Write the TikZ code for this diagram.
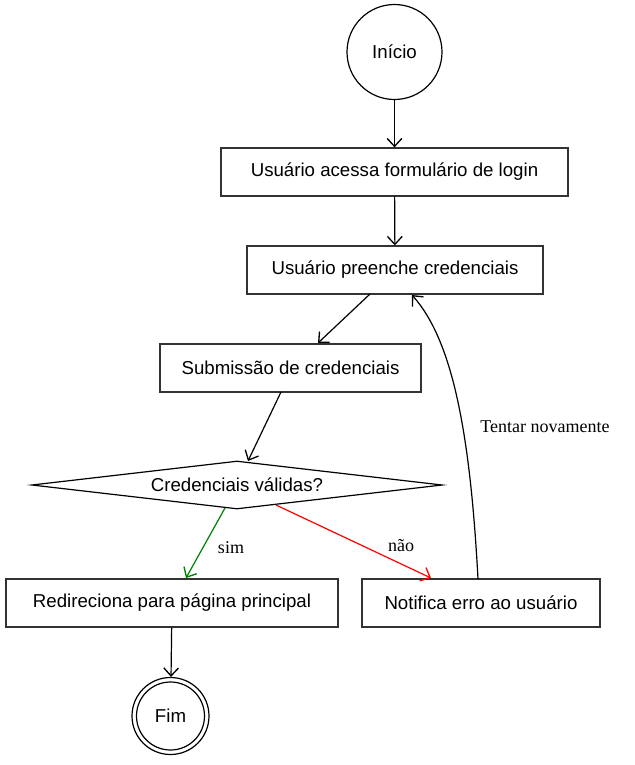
\documentclass[tikz,border=0pt]{standalone}
\usepackage{fontspec}
\setmainfont{Liberation Serif}
\setsansfont{Liberation Sans}
\usetikzlibrary{arrows.meta,shapes.geometric}
\begin{document}
\begin{tikzpicture}[x=0.75pt,y=-0.75pt,
  box/.style={draw=black!80,line width=0.9pt,minimum height=36pt,font=\sffamily\fontsize{14}{16}\selectfont,inner sep=0pt},
  term/.style={draw=black,line width=0.9pt,circle,font=\sffamily\fontsize{14}{16}\selectfont,inner sep=0pt},
  arr/.style={line width=0.9pt,-{Straight Barb[length=6pt,width=11pt,line width=1pt]}},
  lbl/.style={font=\rmfamily\fontsize{13.5}{15}\selectfont}]
\useasboundingbox (0,0) rectangle (635,765);
\node[term,minimum size=71.25pt] (ini) at (394.5,52) {Início};
\node[box,minimum width=260.25pt] (b1) at (394.5,172) {Usuário acessa formulário de login};
\node[box,minimum width=222pt] (b2) at (395,270) {Usuário preenche credenciais};
\node[box,minimum width=195.75pt] (b3) at (290.5,368) {Submissão de credenciais};
\node[draw=black,line width=0.9pt,diamond,aspect=8.6,minimum width=308pt,minimum height=36pt,inner sep=0pt] (d) at (237,485) {};
\node[font=\sffamily\fontsize{14}{16}\selectfont] (dt) at (237,485) {Credenciais válidas?};
\node[box,minimum width=249pt] (b4) at (172,603) {Redireciona para página principal};
\node[box,minimum width=178.5pt] (b5) at (481,603) {Notifica erro ao usuário};
\node[draw=black,line width=0.9pt,circle,minimum size=57.75pt,inner sep=0pt] (fimo) at (170.5,716) {};
\node[term,minimum size=51pt] (fim) at (170.5,716) {Fim};
\coordinate (p1) at (370,294);
\coordinate (p2) at (318,343);
\coordinate (p3) at (281,392);
\coordinate (p4) at (248,461);
\coordinate (g1) at (225,508);
\coordinate (g2) at (186,578);
\coordinate (r1) at (276,505);
\coordinate (r2) at (431,578);
\coordinate (t1) at (478,579);
\coordinate (t2) at (412,295);
\draw[arr] (ini) -- (b1);
\draw[arr] (b1) -- (b2);
\draw[arr] (p1) -- (p2);
\draw[arr] (p3) -- (p4);
\draw[arr,draw=green!50!black] (g1) -- (g2);
\draw[arr,draw=red] (r1) -- (r2);
\draw[arr] (t1) .. controls (470,430) and (452,340) .. (t2);
\draw[arr] (b4) -- (fimo);
\node[lbl] (ls) at (231,548) {sim};
\node[lbl] (ln) at (401,546) {não};
\node[lbl] (lt) at (545,427) {Tentar novamente};
\end{tikzpicture}
\end{document}
